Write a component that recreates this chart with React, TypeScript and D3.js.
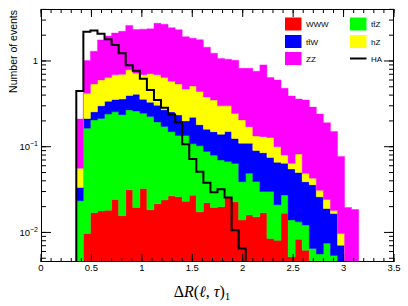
import React from "react";
import * as d3 from "d3";

// Bin lower edges (bin width 0.07)
const binLow = [0.35, 0.42, 0.49, 0.56, 0.63, 0.70, 0.77, 0.84, 0.91, 0.98, 1.05, 1.12, 1.19, 1.26, 1.33, 1.40, 1.47, 1.54, 1.61, 1.68, 1.75, 1.82, 1.89, 1.96, 2.03, 2.10, 2.17, 2.24, 2.31, 2.38, 2.45, 2.52, 2.59, 2.66, 2.73, 2.80, 2.87, 2.94, 3.01, 3.08];
const binWidth = 0.07;

// Stacked backgrounds, bottom to top
const www = [0, 0.0097, 0.017, 0.0178, 0.0182, 0.0243, 0.0157, 0.0315, 0.0195, 0.0325, 0.0184, 0.0216, 0.0239, 0.0267, 0.0261, 0.0231, 0.0271, 0.0174, 0.0222, 0.0196, 0.020, 0.026, 0.0228, 0.014, 0.016, 0.0152, 0.017, 0.0085, 0.0081, 0.0167, 0.0052, 0.0083, 0.0062, 0, 0, 0, 0, 0, 0, 0];
const ttz = [0.0234, 0.155, 0.188, 0.196, 0.222, 0.231, 0.221, 0.237, 0.241, 0.213, 0.206, 0.173, 0.148, 0.123, 0.109, 0.112, 0.081, 0.085, 0.066, 0.060, 0.050, 0.041, 0.041, 0.025, 0.033, 0.024, 0.013, 0.0215, 0.0129, 0.0106, 0.0088, 0.005, 0.006, 0.0065, 0.0056, 0.0075, 0.0054, 0, 0, 0];
const ttw = [0.0101, 0.049, 0.05, 0.086, 0.10, 0.10, 0.123, 0.127, 0.15, 0.112, 0.106, 0.11, 0.098, 0.105, 0.10, 0.065, 0.112, 0.078, 0.072, 0.07, 0.07, 0.083, 0.061, 0.071, 0.061, 0.051, 0.055, 0.045, 0.045, 0.0367, 0.041, 0.0367, 0.0268, 0.0295, 0.0204, 0.0115, 0.0112, 0.0071, 0, 0];
const hz = [0.0225, 0.206, 0.285, 0.30, 0.30, 0.335, 0.34, 0.395, 0.31, 0.333, 0.38, 0.385, 0.37, 0.325, 0.305, 0.27, 0.29, 0.26, 0.22, 0.20, 0.16, 0.15, 0.12, 0.095, 0.061, 0.043, 0.046, 0.053, 0.034, 0.016, 0.009, 0.032, 0.01, 0.007, 0.005, 0.0053, 0.0014, 0.0026, 0, 0];
const zz = [0.154, 0.59, 0.76, 1.16, 1.31, 1.43, 1.52, 1.81, 1.61, 1.66, 1.66, 2.06, 2.04, 1.87, 1.78, 1.45, 1.33, 1.33, 1.07, 0.88, 0.77, 0.75, 0.775, 0.615, 0.649, 0.627, 0.769, 0.512, 0.5, 0.40, 0.326, 0.278, 0.301, 0.247, 0.209, 0.166, 0.132, 0.0673, 0.0196, 0.0185];
// Signal
const ha = [0.447, 2.2, 2.27, 2.08, 1.79, 1.54, 1.23, 0.89, 0.77, 0.62, 0.46, 0.35, 0.285, 0.237, 0.193, 0.107, 0.072, 0.051, 0.038, 0.0295, 0.0318, 0.0256, 0.0106, 0.0065, 0, 0, 0, 0, 0, 0, 0, 0, 0, 0, 0, 0, 0, 0, 0, 0];

const seriesKeys = ["WWW", "ttZ", "ttW", "hZ", "ZZ"];
const seriesColors = ["#ff0000", "#00ff00", "#0000ff", "#ffff00", "#ff00ff"];
const xTickLabels = ["0", "0.5", "1", "1.5", "2", "2.5", "3", "3.5"];

const L = 41, R = 394, T = 9, B = 262;
const yMin = 0.00452, yMax = 4.04;

export default function App() {
  const x = d3.scaleLinear().domain([0, 3.5]).range([L, R]);
  const y = d3.scaleLog().domain([yMin, yMax]).range([B, T]);
  const yc = (v: number) => (v <= yMin ? B : Math.max(T, y(v)));

  const rows = binLow.map((b, i) => ({ b, WWW: www[i], ttZ: ttz[i], ttW: ttw[i], hZ: hz[i], ZZ: zz[i] }));
  const stacked = d3.stack<any>().keys(seriesKeys)(rows);

  const layerPaths = stacked.map((layer) => {
    const n = layer.length;
    const tops = layer.map((d) => yc(d[1]));
    const bots = layer.map((d) => (d[0] <= yMin ? B : yc(d[0])));
    let p = `M${x(binLow[0])},${bots[0]}`;
    for (let j = 0; j < n; j++) p += `V${tops[j]}H${x(binLow[j] + binWidth)}`;
    for (let j = n - 1; j >= 0; j--) p += `V${bots[j]}H${x(binLow[j])}`;
    return p + "Z";
  });

  // HA step line
  let p = `M${x(0)},${B}H${x(binLow[0])}`;
  ha.forEach((v, i) => {
    p += `V${yc(v)}H${x(binLow[i] + binWidth)}`;
  });
  p += `V${B}H${x(3.5)}`;

  // ticks
  const xMinor = d3.range(0, 36).map((i) => i / 10);
  const xMajor = d3.range(0, 8).map((i) => i * 0.5);
  const yMinor: number[] = [];
  for (let d = -3; d <= 0; d++) for (let m = 1; m <= 9; m++) {
    const v = m * Math.pow(10, d);
    if (v >= yMin && v <= yMax) yMinor.push(v);
  }
  const yMajor = [0.01, 0.1, 1];

  const font = "'Liberation Sans', Arial, Helvetica, sans-serif";

  const legend = [
    { label: "WWW", color: seriesColors[0], col: 0, row: 0 },
    { label: "tt\u0304W", color: seriesColors[2], col: 0, row: 1 },
    { label: "ZZ", color: seriesColors[4], col: 0, row: 2 },
    { label: "tt\u0304Z", color: seriesColors[1], col: 1, row: 0 },
    { label: "hZ", color: seriesColors[3], col: 1, row: 1 },
  ];
  const colX = [285, 350];
  const rowY = [24, 41.5, 58.5];

  return (
    <svg width={408} height={306} style={{ position: "absolute", left: 0, top: 0, display: "block" }} xmlns="http://www.w3.org/2000/svg">
      <rect x={0} y={0} width={408} height={306} fill="#fff" />
      <defs>
        <clipPath id="plot"><rect x={L} y={T} width={R - L} height={B - T} /></clipPath>
      </defs>
      <g clipPath="url(#plot)">
        {layerPaths.map((d, i) => (
          <path key={seriesKeys[i]} d={d} fill={seriesColors[i]} stroke={seriesColors[i]} strokeWidth={0.4} />
        ))}
        <path d={p} fill="none" stroke="#000" strokeWidth={2} />
      </g>
      {/* frame */}
      <rect x={L + 0.5} y={T + 0.5} width={R - L - 1} height={B - T - 1} fill="none" stroke="#000" strokeWidth={1} />
      {/* x ticks */}
      {xMinor.map((v) => (
        <g key={`xm${v}`}>
          <line x1={x(v)} x2={x(v)} y1={B} y2={B - 4} stroke="#000" />
          <line x1={x(v)} x2={x(v)} y1={T} y2={T + 4} stroke="#000" />
        </g>
      ))}
      {xMajor.map((v) => (
        <g key={`xM${v}`}>
          <line x1={x(v)} x2={x(v)} y1={B} y2={B - 8} stroke="#000" />
          <line x1={x(v)} x2={x(v)} y1={T} y2={T + 8} stroke="#000" />
        </g>
      ))}
      {xMajor.map((v, i) => (
        <text key={`xl${v}`} x={x(v)} y={271} fontSize={9.5} fontFamily={font} textAnchor="middle">{xTickLabels[i]}</text>
      ))}
      {/* y ticks */}
      {yMinor.map((v) => (
        <g key={`ym${v}`}>
          <line x1={L} x2={L + 5} y1={y(v)} y2={y(v)} stroke="#000" />
          <line x1={R} x2={R - 5} y1={y(v)} y2={y(v)} stroke="#000" />
        </g>
      ))}
      {yMajor.map((v) => (
        <g key={`yM${v}`}>
          <line x1={L} x2={L + 10} y1={y(v)} y2={y(v)} stroke="#000" />
          <line x1={R} x2={R - 10} y1={y(v)} y2={y(v)} stroke="#000" />
        </g>
      ))}
      <text x={38} y={y(1) + 3.5} fontSize={9.5} fontFamily={font} textAnchor="end">1</text>
      {[-1, -2].map((e) => (
        <text key={`yl${e}`} x={38} y={y(Math.pow(10, e)) + 3.5} fontSize={9.5} fontFamily={font} textAnchor="end">
          10<tspan fontSize={7} dy={-4}>{`\u2212${-e}`}</tspan>
        </text>
      ))}
      {/* axis titles */}
      <text transform={`translate(16.5,10) rotate(-90)`} fontSize={10.5} fontFamily={font} textAnchor="end">Number of events</text>
      <text x={202} y={297} fontSize={16} fontFamily="'Liberation Serif', 'DejaVu Serif', serif" textAnchor="middle">
        Δ<tspan fontStyle="italic">R</tspan>(<tspan fontStyle="italic">ℓ</tspan>, <tspan fontStyle="italic">τ</tspan>)<tspan fontSize={11} dy={3}>1</tspan>
      </text>
      {/* legend */}
      {legend.map((l) => (
        <g key={l.label}>
          <rect x={colX[l.col]} y={rowY[l.row] - 6.5} width={16.5} height={13} fill={l.color} />
          <text x={colX[l.col] + 21} y={rowY[l.row] + 3} fontSize={8} fontFamily={font}>{l.label}</text>
        </g>
      ))}
      <line x1={colX[1]} x2={colX[1] + 16.5} y1={rowY[2]} y2={rowY[2]} stroke="#000" strokeWidth={2} />
      <text x={colX[1] + 21} y={rowY[2] + 3} fontSize={8} fontFamily={font}>HA</text>
    </svg>
  );
}
